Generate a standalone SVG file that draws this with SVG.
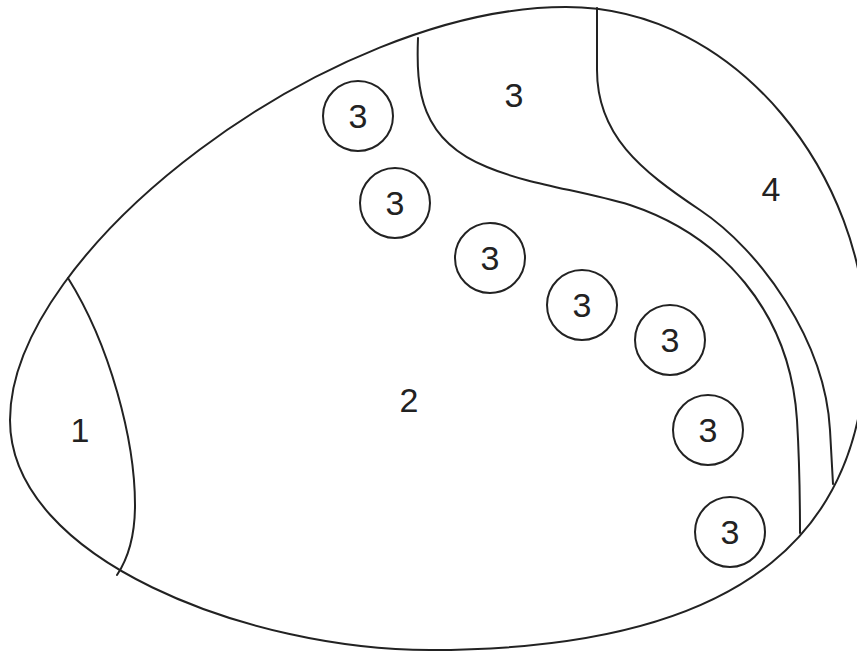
<svg xmlns="http://www.w3.org/2000/svg" width="857" height="653" viewBox="0 0 857 653">
<style>
.ln{fill:none;stroke:#222;stroke-width:2;stroke-linecap:round;stroke-linejoin:round}
.c{fill:#fff;stroke:#222;stroke-width:2}
.t{font-family:"Liberation Sans","DejaVu Sans",sans-serif;font-size:34px;fill:#222;text-anchor:middle;dominant-baseline:central}
</style>
<rect width="857" height="653" fill="#fff"/>
<g id="outline">
<path class="ln" d="M566,7 C740,7 866,180 866,340 C866,520 760,650 430,650 C250,650 10,560 10,420 C10,250 330,7 566,7 Z"/>
</g>
<g id="dividers">
<path class="ln" d="M68,278 C110,345 135,440 135,505 C135,540 127,560 117,575"/>
<path class="ln" d="M418,38 C416,90 420,140 487,167 C530,185 580,190 630,205 C720,235 790,310 797,420 C800,470 800,500 800,533"/>
<path class="ln" d="M597,8 L597,70 C597,135 640,170 700,210 C760,250 825,340 830,430 L833,484"/>
</g>
<g id="region1"><text class="t" x="80" y="430">1</text></g>
<g id="region2"><text class="t" x="409" y="400">2</text></g>
<g id="region3"><text class="t" x="514" y="95">3</text></g>
<g id="region4"><text class="t" x="771" y="189">4</text></g>
<g id="c1"><circle class="c" cx="358" cy="116" r="35"/><text class="t" x="358" y="116">3</text></g>
<g id="c2"><circle class="c" cx="395" cy="203" r="35"/><text class="t" x="395" y="203">3</text></g>
<g id="c3"><circle class="c" cx="490" cy="258" r="35"/><text class="t" x="490" y="258">3</text></g>
<g id="c4"><circle class="c" cx="582" cy="305" r="35"/><text class="t" x="582" y="305">3</text></g>
<g id="c5"><circle class="c" cx="670" cy="340" r="35"/><text class="t" x="670" y="340">3</text></g>
<g id="c6"><circle class="c" cx="708" cy="430" r="35"/><text class="t" x="708" y="430">3</text></g>
<g id="c7"><circle class="c" cx="730" cy="532" r="35"/><text class="t" x="730" y="532">3</text></g>
</svg>
